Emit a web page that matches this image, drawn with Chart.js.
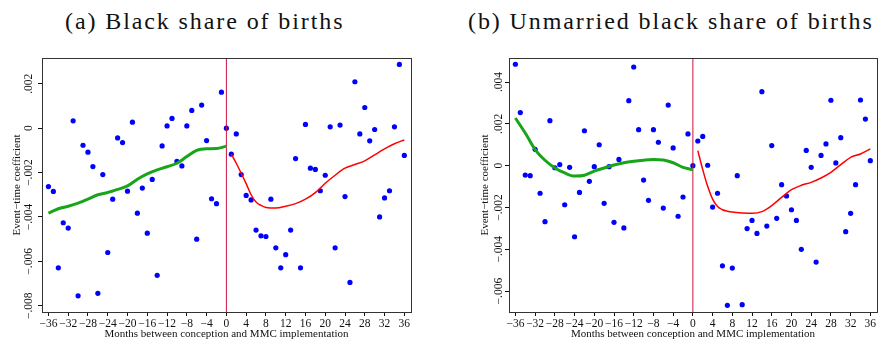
<!DOCTYPE html>
<html>
<head>
<meta charset="utf-8">
<script src="https://cdn.jsdelivr.net/npm/chart.js@4.4.1/dist/chart.umd.min.js"></script>
<style>
  body { margin: 0; background: #fff; }
  #wrap { position: relative; width: 881px; height: 345px; overflow: hidden; background: #fff; }
  .ttl { position: absolute; top: 8px; font-family: 'Liberation Serif', 'Times New Roman', serif; font-size: 24px; letter-spacing: 1.9px; line-height: 26px; color: #111; white-space: nowrap; }
  canvas { position: absolute; top: 45px; }
</style>
</head>
<body>
<div id="wrap">
  <div class="ttl" id="ttlA" style="left:65px">(a) Black share of births</div>
  <div class="ttl" id="ttlB" style="left:468px">(b) Unmarried black share of births</div>
  <canvas id="chartA" width="440" height="300" style="left:0px"></canvas>
  <canvas id="chartB" width="441" height="300" style="left:440px"></canvas>
</div>
<script>
// months between conception and MMC implementation
const months = [-36,-35,-34,-33,-32,-31,-30,-29,-28,-27,-26,-25,-24,-23,-22,-21,-20,-19,-18,-17,-16,-15,-14,-13,-12,-11,-10,-9,-8,-7,-6,-5,-4,-3,-2,-1,
  0,1,2,3,4,5,6,7,8,9,10,11,12,13,14,15,16,17,18,19,20,21,22,23,24,25,26,27,28,29,30,31,32,33,34,35,36];
const xTicks = [-36,-32,-28,-24,-20,-16,-12,-8,-4,0,4,8,12,16,20,24,28,32,36];

// (a) Black share of births
const coefA = [-0.00263,-0.00285,-0.00629,-0.00426,-0.0045,0.00033,-0.00755,-0.00077,-0.00108,-0.00173,-0.00744,-0.00209,
  -0.0056,-0.0032,-0.00044,-0.00065,-0.00284,0.00027,-0.00383,-0.0027,-0.00473,-0.00231,-0.00663,-0.0008,
  0.0001,0.00044,-0.0015,-0.0017,0.0001,0.0008,-0.005,0.00104,-0.00056,-0.00318,-0.0034,0.00162,
  0,-0.00117,-0.00026,-0.00209,-0.00303,-0.00323,-0.00459,-0.00485,-0.00488,-0.0032,-0.00539,-0.00629,
  -0.0057,-0.00459,-0.00137,-0.00629,0.00017,-0.0018,-0.00186,-0.00282,-0.00212,0.00006,-0.00539,0.00014,
  -0.00308,-0.00695,0.00209,-0.00026,0.00093,-0.00057,-0.00006,-0.004,-0.00314,-0.00282,0.00006,0.00287,-0.00123];
const preFitX = [-36,-34,-32,-30,-28,-26,-24,-22,-20,-18,-16,-14,-12,-10,-8,-6,-4,-2,0];
const preFitA = [-0.00383,-0.00363,-0.00352,-0.00338,-0.0032,-0.003,-0.0029,-0.00276,-0.0026,-0.0023,-0.00206,-0.00188,
  -0.00174,-0.00158,-0.00128,-0.001,-0.00093,-0.00092,-0.00081];
const postFitX = [1,2,3,4,5,6,7,8,10,12,14,16,18,20,22,24,26,28,30,32,34,36];
const postFitA = [-0.00117,-0.00158,-0.00203,-0.0025,-0.003,-0.00333,-0.00348,-0.00357,-0.0036,-0.00352,-0.0034,-0.0032,
  -0.0029,-0.00248,-0.00212,-0.0018,-0.00164,-0.00147,-0.0012,-0.00093,-0.0007,-0.00053];
const yTicksA = [0.002,0,-0.002,-0.004,-0.006,-0.008];
const yLabelsA = ['.002','0','\u2212.002','\u2212.004','\u2212.006','\u2212.008'];

// (b) Unmarried black share of births
const coefB = [0.00485,0.00254,-0.00045,-0.00048,0.00078,-0.00132,-0.00268,0.00215,-0.0001,0.00005,-0.00187,-0.00008,
  -0.0034,-0.00128,0.00167,-0.00075,-0.00005,0.001,-0.0018,-0.00005,-0.00271,0.0003,-0.00298,0.00311,
  0.00472,0.00172,-0.00069,-0.00166,0.00172,0.00112,-0.00203,0.0029,0.00085,-0.00242,-0.0015,0.00152,
  0,0.00118,0.0014,0.00002,-0.00198,-0.00132,-0.00479,-0.00668,-0.0049,-0.00048,-0.00665,-0.00301,
  -0.00262,-0.00324,0.00354,-0.00289,0.00096,-0.00252,-0.00091,-0.00145,-0.00211,-0.00262,-0.004,0.00073,
  -0.00008,-0.00461,0.00049,0.00104,0.00313,0.00013,0.00134,-0.00316,-0.00228,-0.00091,0.00314,0.00223,0.00024];
const preFitB = [0.00228,0.00156,0.00077,0.00026,-0.00011,-0.00035,-0.0005,-0.00046,-0.00026,-0.00011,0.00003,0.00014,
  0.00021,0.00026,0.00029,0.00027,0.00014,-0.00008,-0.0002];
const postFitB = [0.00072,-0.00019,-0.00099,-0.0016,-0.00195,-0.00211,-0.00218,-0.00222,-0.00226,-0.00228,-0.0022,-0.00191,
  -0.00152,-0.00115,-0.00094,-0.0008,-0.00059,-0.00032,0.00005,0.0004,0.00056,0.0008];
const yTicksB = [0.004,0.002,0,-0.002,-0.004,-0.006];
const yLabelsB = ['.004','.002','0','\u2212.002','\u2212.004','\u2212.006'];

const serif = "'Liberation Serif', 'Times New Roman', serif";
Chart.defaults.font.family = serif;
Chart.defaults.color = '#111';

function zip(xs, ys) { return xs.map((x, i) => ({x: x, y: ys[i]})); }

// y tick labels are rotated in the original, chart.js can't do that on a vertical axis
const rotatedY = {
  id: 'rotatedY',
  afterDraw(chart, args, opts) {
    const ctx = chart.ctx, area = chart.chartArea, ys = chart.scales.y;
    ctx.save();
    ctx.strokeStyle = '#333';
    ctx.lineWidth = 1;
    ctx.strokeRect(area.left + 0.5, area.top + 0.5, area.right - area.left, area.bottom - area.top);
    ctx.fillStyle = '#111';
    ctx.textAlign = 'center';
    ctx.textBaseline = 'middle';
    ctx.font = '11.5px ' + serif;
    opts.values.forEach((v, i) => {
      const py = ys.getPixelForValue(v);
      ctx.save();
      ctx.translate(area.left - opts.tickOff, py);
      ctx.rotate(-Math.PI / 2);
      ctx.fillText(opts.labels[i], 0, 0);
      ctx.restore();
    });
    ctx.font = '11px ' + serif;
    ctx.translate(area.left - opts.titleOff, (area.top + area.bottom) / 2);
    ctx.rotate(-Math.PI / 2);
    ctx.fillText('Event\u2212time coefficient', 0, 0);
    ctx.restore();
  }
};

function makePanel(id, coef, preFit, postFit, yMin, yMax, yTicks, yLabels, padLeft, padRight, tickOff, titleOff) {
  return new Chart(document.getElementById(id), {
    type: 'scatter',
    data: {
      datasets: [
        { data: zip(preFitX, preFit), showLine: true, borderColor: '#19a519', borderWidth: 3, pointRadius: 0,
          tension: 0.4, cubicInterpolationMode: 'monotone', order: 1 },
        { data: zip(postFitX, postFit), showLine: true, borderColor: '#ff0000', borderWidth: 1.5, pointRadius: 0,
          tension: 0.4, cubicInterpolationMode: 'monotone', order: 2 },
        { data: [{x: 0, y: yMin}, {x: 0, y: yMax}], showLine: true, borderColor: '#cc1040', borderWidth: 1,
          pointRadius: 0, order: 3 },
        { data: zip(months, coef), backgroundColor: '#0000ff', borderColor: '#0000ff', pointRadius: 2.6,
          borderWidth: 0, order: 4 }
      ]
    },
    options: {
      responsive: false,
      animation: false,
      layout: { padding: { left: padLeft, right: padRight, top: 13, bottom: 0 } },
      plugins: {
        legend: { display: false },
        tooltip: { enabled: false },
        rotatedY: { values: yTicks, labels: yLabels, tickOff: tickOff, titleOff: titleOff }
      },
      scales: {
        x: {
          type: 'linear', min: -37.3, max: 37.35,
          afterBuildTicks: s => { s.ticks = xTicks.map(v => ({value: v})); },
          afterFit: s => { s.height = 33; },
          ticks: { font: { size: 11.5 }, color: '#111', padding: 1, maxRotation: 0, autoSkip: false,
                   callback: v => String(v).replace('-', '\u2212') },
          grid: { drawOnChartArea: false, drawTicks: true, tickLength: 4, color: '#111' },
          border: { display: true, color: '#111' },
          title: { display: true, text: 'Months between conception and MMC implementation',
                   font: { size: 11 }, color: '#111', padding: { top: 0, bottom: 4 } }
        },
        y: {
          min: yMin, max: yMax,
          afterBuildTicks: s => { s.ticks = yTicks.map(v => ({value: v})); },
          afterFit: s => { s.width = 42; },
          ticks: { color: 'rgba(0,0,0,0)', font: { size: 11 } },
          grid: { drawOnChartArea: false, drawTicks: true, tickLength: 4, color: '#111' },
          border: { display: true, color: '#111' }
        }
      }
    },
    plugins: [rotatedY]
  });
}

makePanel('chartA', coefA, preFitA, postFitA, -0.00828, 0.00316, yTicksA, yLabelsA, 0, 29, 12.7, 25);
makePanel('chartB', coefB, preFitB, postFitB, -0.0070, 0.00515, yTicksB, yLabelsB, 27, 2, 10, 24.3);
</script>
</body>
</html>
